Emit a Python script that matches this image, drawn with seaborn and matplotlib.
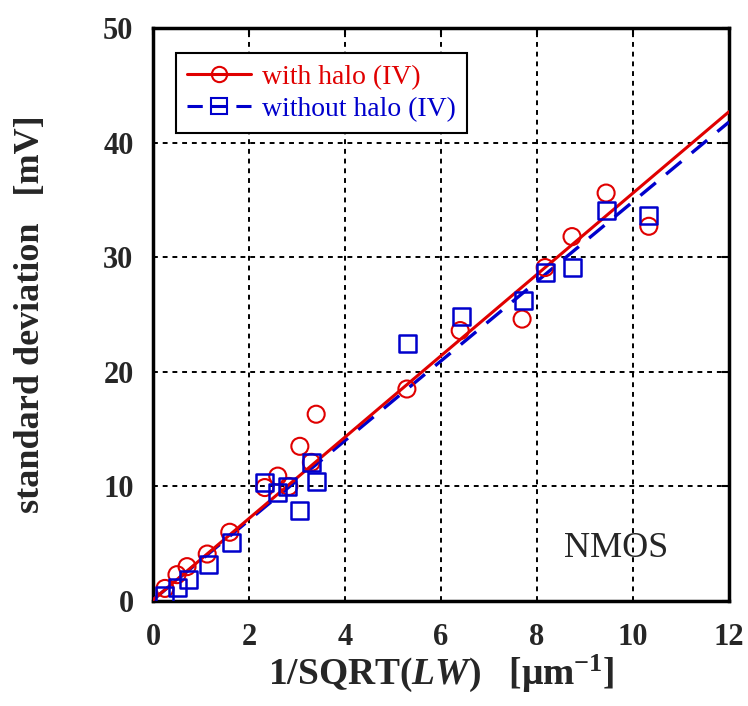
import matplotlib
matplotlib.use("Agg")
import matplotlib.pyplot as plt
from matplotlib.lines import Line2D
import seaborn as sns
import pandas as pd

# ---- data ----
halo_x = [0.25, 0.50, 0.71, 1.13, 1.60, 2.33, 2.60, 2.83, 3.06, 3.30, 3.40, 5.29, 6.40, 7.69, 8.17, 8.73, 9.44, 10.33]
halo_y = [1.1, 2.3, 3.0, 4.1, 6.0, 9.9, 10.9, 10.0, 13.5, 12.1, 16.3, 18.5, 23.6, 24.6, 29.1, 31.8, 35.6, 32.7]
nohalo_x = [0.25, 0.52, 0.73, 1.15, 1.63, 2.33, 2.60, 2.81, 3.06, 3.31, 3.40, 5.31, 6.42, 7.71, 8.17, 8.73, 9.44, 10.33]
nohalo_y = [0.5, 1.2, 1.9, 3.2, 5.1, 10.3, 9.5, 10.0, 7.9, 12.1, 10.4, 22.5, 24.8, 26.2, 28.7, 29.1, 34.1, 33.6]
fit_x = [0, 12]
halo_fit = [0.1, 42.7]
nohalo_fit = [0.1, 41.8]

x_ticks = [0, 2, 4, 6, 8, 10, 12]
y_ticks = [0, 10, 20, 30, 40, 50]

red = "#e00000"
blue = "#0000cc"

sns.set_theme(style="white")
plt.rcParams["font.family"] = ["Liberation Serif", "DejaVu Serif"]
plt.rcParams["mathtext.fontset"] = "custom"
plt.rcParams["mathtext.rm"] = "Liberation Serif"
plt.rcParams["mathtext.it"] = "Liberation Serif:italic:bold"
plt.rcParams["mathtext.bf"] = "Liberation Serif:bold"

fig = plt.figure(figsize=(7.48, 7.06), dpi=100)
ax = fig.add_axes([0.2045, 0.1487, 0.9746 - 0.2045, 0.9603 - 0.1487])

df_h = pd.DataFrame({"x": halo_x, "y": halo_y})
df_n = pd.DataFrame({"x": nohalo_x, "y": nohalo_y})
df_fh = pd.DataFrame({"x": fit_x, "y": halo_fit})
df_fn = pd.DataFrame({"x": fit_x, "y": nohalo_fit})

sns.lineplot(data=df_fn, x="x", y="y", ax=ax, color=blue, lw=2.4, zorder=3)
ax.lines[-1].set_dashes([6, 4])
sns.lineplot(data=df_fh, x="x", y="y", ax=ax, color=red, lw=2.2, zorder=4)

sns.scatterplot(data=df_h, x="x", y="y", ax=ax, marker="o", s=150,
                facecolor="none", edgecolor=red, linewidth=1.5, zorder=5)
sns.scatterplot(data=df_n, x="x", y="y", ax=ax, marker="s", s=150,
                facecolor="none", edgecolor=blue, linewidth=1.8, zorder=5)

ax.set_xlim(0, 12)
ax.set_ylim(0, 50)
ax.set_xticks(x_ticks)
ax.set_yticks(y_ticks)
ax.set_xticklabels([str(t) for t in x_ticks], fontsize=22, fontweight="bold")
ax.set_yticklabels([str(t) for t in y_ticks], fontsize=22, fontweight="bold")
ax.tick_params(direction="in", length=5, width=1.5, color="black",
               top=True, right=True)
ax.tick_params(axis="x", pad=16)
ax.tick_params(axis="y", pad=14)
ax.grid(True, color="black", linestyle=(0, (2.5, 2.5)), linewidth=1.4)
for s in ax.spines.values():
    s.set_linewidth(2.5)
    s.set_color("black")

ax.set_xlabel(r"1/SQRT($\mathit{LW}$)   [$\mathbf{\mu}$m$^{\mathbf{-1}}$]", fontsize=27,
              fontweight="bold", labelpad=0)
ax.set_ylabel("standard deviation   [mV]", fontsize=26, fontweight="bold", labelpad=40)

ax.text(10.73, 3.8, "NMOS", fontsize=26, ha="right", va="baseline")

handles = [
    Line2D([0], [0], color=red, lw=2.2, marker="o", markersize=11,
           markerfacecolor="none", markeredgecolor=red, markeredgewidth=1.5),
    Line2D([0], [0], color=blue, lw=2.2, linestyle=(0, (5, 3)), marker="s", markersize=11,
           markerfacecolor="none", markeredgecolor=blue, markeredgewidth=1.5),
]
leg = ax.legend(handles, ["with halo (IV)", "without halo (IV)"], loc="upper left",
                bbox_to_anchor=(0.04, 0.956), fontsize=20, frameon=True, fancybox=False,
                edgecolor="black", framealpha=1, handlelength=2.3, handletextpad=0.4,
                borderpad=0.4, labelspacing=0.25, borderaxespad=0)
leg.get_frame().set_linewidth(1.5)
leg.get_texts()[0].set_color(red)
leg.get_texts()[1].set_color(blue)

fig.savefig("out.png", dpi=100)
